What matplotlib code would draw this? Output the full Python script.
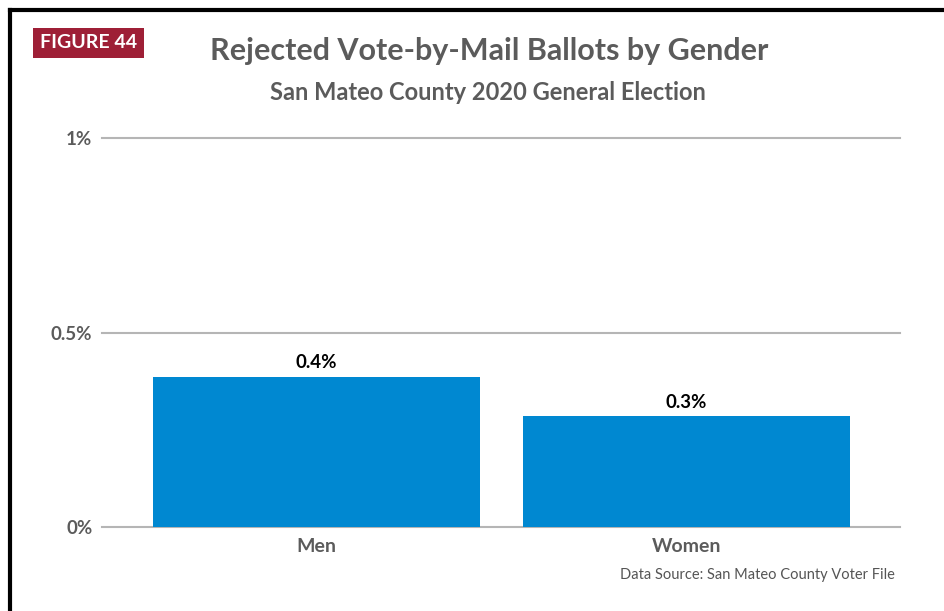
import matplotlib
matplotlib.use("Agg")
import matplotlib.pyplot as plt
from matplotlib.patches import Rectangle

categories = ["Men", "Women"]
values = [0.386, 0.285]
value_labels = ["0.4%", "0.3%"]
yticks = [0, 0.5, 1.0]
ytick_labels = ["0%", "0.5%", "1%"]

W, H = 945, 611
fig = plt.figure(figsize=(W / 100, H / 100), dpi=100)
plt.rcParams['font.family'] = ['Lato', 'DejaVu Sans']

def fx(x): return x / W
def fy(y): return 1 - y / H

# frame
fig.add_artist(plt.Line2D([fx(10), fx(10)], [fy(10), 0], color='black', lw=3, transform=fig.transFigure))
fig.add_artist(plt.Line2D([fx(10), 1], [fy(10), fy(10)], color='black', lw=3, transform=fig.transFigure))

# figure tag
fig.add_artist(Rectangle((fx(33), fy(58)), fx(144) - fx(33), fy(28) - fy(58),
                         transform=fig.transFigure, facecolor='#9e1f36', edgecolor='none'))
fig.text(fx(88.5), fy(43), "FIGURE 44", color='white', fontsize=14, fontweight='bold',
         ha='center', va='center')

fig.text(fx(489), fy(51), "Rejected Vote-by-Mail Ballots by Gender", color='#5b5b5b',
         fontsize=22, fontweight='bold', ha='center', va='center')
fig.text(fx(488), fy(92), "San Mateo County 2020 General Election", color='#5b5b5b',
         fontsize=17, fontweight='bold', ha='center', va='center')

ax = fig.add_axes([fx(102), fy(527), fx(900) - fx(102), fy(138) - fy(527)])
x = list(range(len(categories)))
ax.bar(x, values, width=0.884, color='#0088d1', zorder=3)
ax.set_xlim(-0.58, 1.577)
ax.set_ylim(0, 1.0)
for yv in yticks:
    ax.axhline(yv, color='#b5b5b5', lw=1.5, zorder=1, clip_on=False)
for s in ax.spines.values():
    s.set_visible(False)
ax.set_yticks(yticks)
ax.set_yticklabels(ytick_labels, fontsize=13.5, fontweight='bold', color='#5b5b5b')
ax.tick_params(axis='y', length=0, pad=7)
ax.set_xticks(x)
ax.set_xticklabels(categories, fontsize=14, fontweight='bold', color='#5b5b5b')
ax.tick_params(axis='x', length=0, pad=8)
for xi, v, lab in zip(x, values, value_labels):
    ax.annotate(lab, (xi, v), xytext=(0, 4), textcoords='offset points', ha='center',
                va='bottom', fontsize=13.5, fontweight='bold', color='black')

fig.text(fx(895), fy(575), "Data Source: San Mateo County Voter File", color='#555555',
         fontsize=10.5, ha='right', va='center')

fig.savefig("out.png", dpi=100)
